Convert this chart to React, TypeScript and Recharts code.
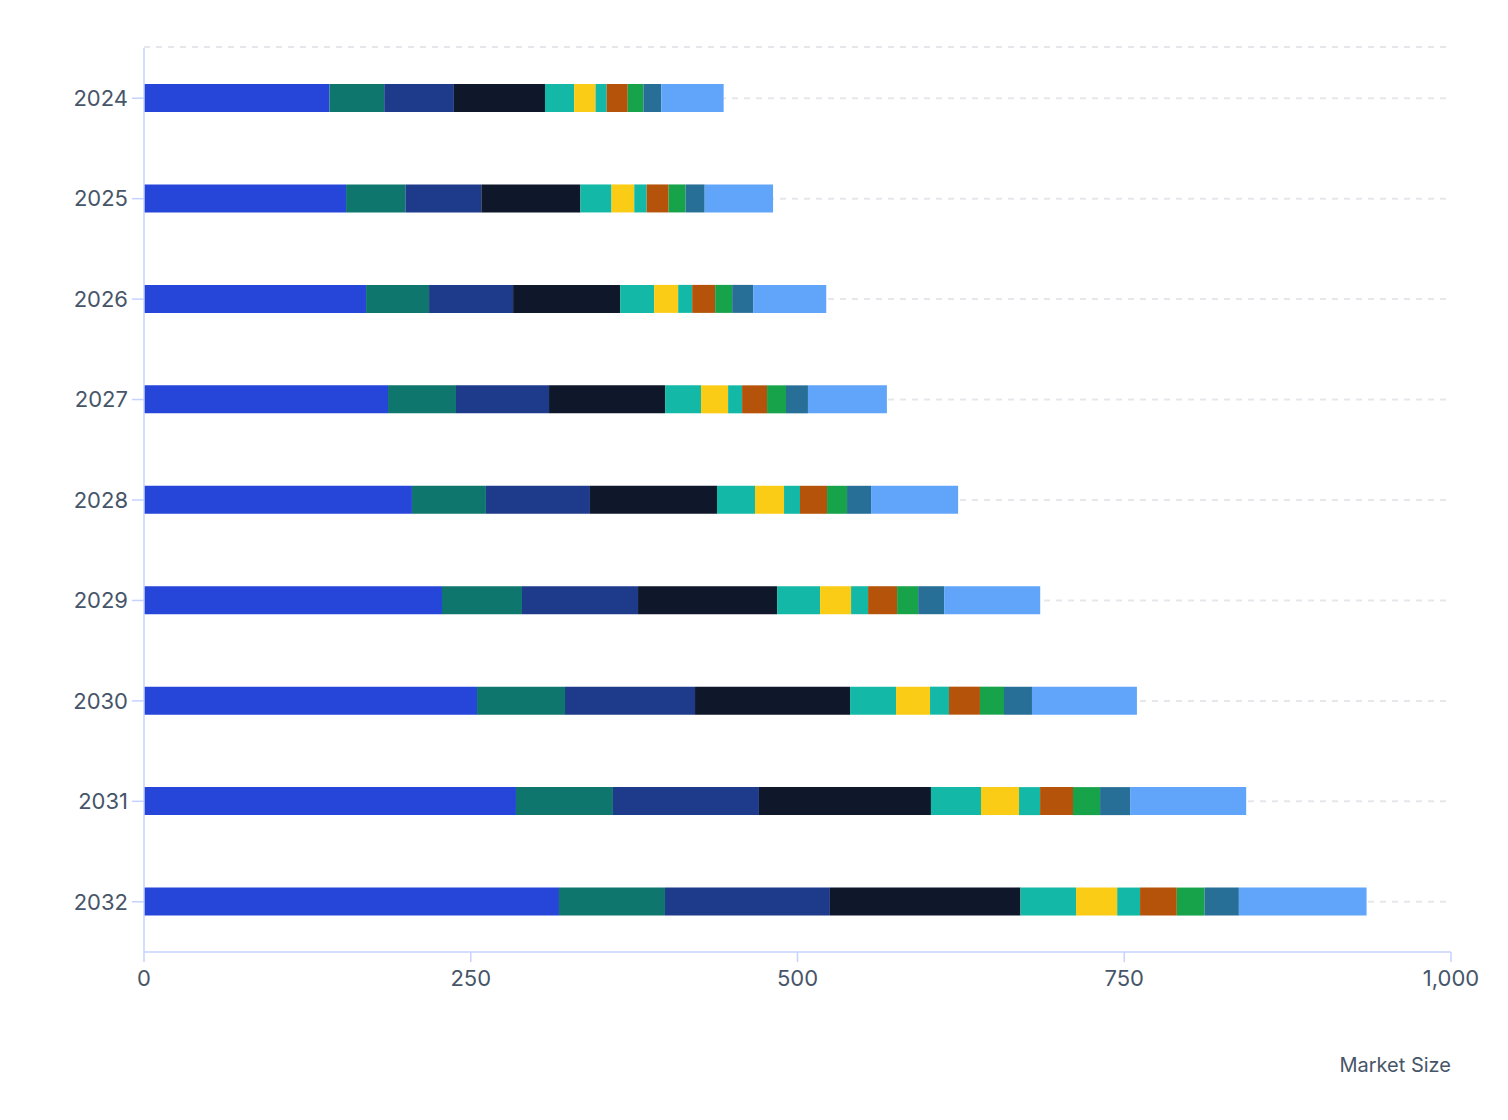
import { BarChart, Bar, XAxis, YAxis, CartesianGrid } from "recharts";

const years = ["2024", "2025", "2026", "2027", "2028", "2029", "2030", "2031", "2032"];

// segment values per year, read left to right
const seg1 = [141.9, 154.6, 169.9, 186.7, 205.0, 228.0, 254.8, 284.6, 317.5];
const seg2 = [41.9, 45.4, 48.2, 52.0, 56.6, 61.2, 67.3, 74.2, 81.1];
const seg3 = [53.3, 58.1, 64.3, 71.2, 79.6, 88.8, 99.5, 111.7, 126.2];
const seg4 = [69.7, 75.8, 81.9, 88.8, 97.2, 106.4, 118.6, 131.6, 145.8];
const seg5 = [22.3, 23.8, 26.0, 27.5, 29.1, 32.9, 35.2, 38.3, 42.5];
const seg6 = [16.4, 17.4, 18.4, 20.7, 22.2, 23.7, 26.0, 29.1, 31.5];
const seg7 = [8.5, 9.5, 10.7, 10.7, 12.2, 13.0, 14.5, 16.1, 17.5];
const seg8 = [16.1, 16.8, 17.6, 19.1, 20.7, 22.2, 23.7, 25.2, 28.1];
const seg9 = [12.0, 13.0, 13.0, 14.5, 15.3, 16.1, 18.4, 20.7, 21.3];
const seg10 = [13.7, 14.6, 16.1, 16.8, 18.4, 19.9, 21.4, 23.0, 26.2];
const seg11 = [47.7, 52.3, 55.9, 60.4, 66.6, 73.5, 80.3, 88.8, 97.7];

const xTicks = [0, 250, 500, 750, 1000];

const series = [seg1, seg2, seg3, seg4, seg5, seg6, seg7, seg8, seg9, seg10, seg11];
const colors = [
  "#2645d9", "#0f766e", "#1e3a8a", "#0f172a", "#14b8a6", "#facc15",
  "#14b8a6", "#b45309", "#16a34a", "#286f98", "#60a5fa",
];

const data = years.map((year, i) => {
  const row: Record<string, string | number> = { year };
  series.forEach((s, j) => {
    row[`s${j + 1}`] = s[i];
  });
  return row;
});

const axisColor = "#c7d2fe";
const textColor = "#475569";

export default function App() {
  return (
    <div style={{ position: "absolute", left: 0, top: 0, fontFamily: "Inter, sans-serif" }}>
      <BarChart
        width={1508}
        height={1120}
        data={data}
        layout="vertical"
        margin={{ top: 48, right: 57, bottom: 48, left: 0 }}
        barSize={28}
      >
        <CartesianGrid
          vertical={false}
          stroke="#e5e7eb"
          strokeWidth={2}
          strokeDasharray="6 6"
          horizontalCoordinatesGenerator={({ offset }: any) => {
            const step = offset.height / years.length;
            return [offset.top - 1, ...years.map((_, i) => offset.top + step * (i + 0.5))];
          }}
        />
        <XAxis
          type="number"
          domain={[0, 1000]}
          ticks={xTicks}
          tickFormatter={(v: number) => v.toLocaleString("en-US")}
          height={120}
          stroke={axisColor}
          strokeWidth={1.5}
          tickSize={10}
          tickMargin={8}
          tick={{ fill: textColor, fontSize: 22 }}
          label={{ value: "Market Size", position: "insideBottomRight", offset: 0, fill: textColor, fontSize: 20 }}
        />
        <YAxis
          type="category"
          dataKey="year"
          width={144}
          stroke={axisColor}
          strokeWidth={1.5}
          tickSize={12}
          tickMargin={4}
          tick={{ fill: textColor, fontSize: 22 }}
        />
        {colors.map((c, j) => (
          <Bar key={j} dataKey={`s${j + 1}`} stackId="a" fill={c} isAnimationActive={false} />
        ))}
      </BarChart>
    </div>
  );
}
